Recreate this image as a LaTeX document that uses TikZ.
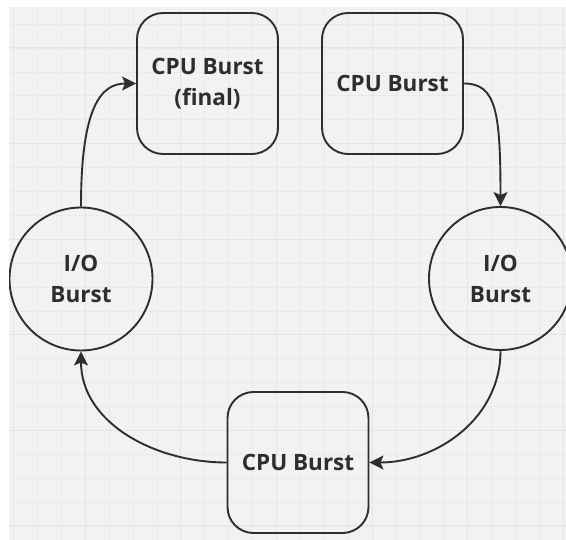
\documentclass[tikz,border=0pt]{standalone}
\usepackage{fontspec}
\setmainfont{Open Sans}
\usetikzlibrary{arrows.meta}
\definecolor{ink}{HTML}{2E2E2E}
\definecolor{paper}{HTML}{F2F2F2}
\definecolor{gridminor}{HTML}{EAEAEA}
\definecolor{gridmajor}{HTML}{E4E4E4}
\tikzset{
  cpubox/.style={draw=ink, line width=1.9pt, rounded corners=26pt,
    minimum width=141pt, minimum height=141pt, inner sep=0pt,
    align=center, font=\fontsize{22.5}{31}\selectfont\bfseries, text=ink},
  iocircle/.style={draw=ink, line width=1.9pt, circle,
    minimum size=143pt, inner sep=0pt,
    align=center, font=\fontsize{22.5}{31}\selectfont\bfseries, text=ink},
  flow/.style={draw=ink, line width=1.9pt,
    -{Stealth[length=14pt,width=14pt,inset=3pt]}}
}
\begin{document}
\begin{tikzpicture}[x=1pt,y=-1pt]
  \useasboundingbox (0,0) rectangle (566,540);
  \fill[white] (0,0) rectangle (566,540);
  \begin{scope}
    \clip (9,7) rectangle (566,540);
    \fill[paper] (9,7) rectangle (566,540);
    % minor grid
    \foreach \i in {0,...,23} {
      \draw[gridminor, line width=0.8pt] (13.5+23.9*\i,7) -- (13.5+23.9*\i,540);
      \draw[gridminor, line width=0.8pt] (9,0.3+23.9*\i) -- (566,0.3+23.9*\i);
    }
    % major grid
    \foreach \i in {0,...,5} {
      \draw[gridmajor, line width=1pt] (85.2+95.6*\i,7) -- (85.2+95.6*\i,540);
      \draw[gridmajor, line width=1pt] (9,48+95.6*\i) -- (566,48+95.6*\i);
    }

    \node[cpubox] (final) at (207.5,83.5) {CPU Burst\\(final)};
    \node[cpubox] (cpuA)  at (392.5,83.5) {CPU Burst};
    \node[iocircle] (ioR) at (500.5,278.5) {I/O\\Burst};
    \node[cpubox] (cpuB)  at (298,462.5) {CPU Burst};
    \node[iocircle] (ioL) at (81,279) {I/O\\Burst};

    \draw[flow] (cpuA.east) .. controls +(32,0) and +(0,-95) .. (ioR.north);
    \draw[flow] (ioR.south) to[out=-90, in=0] (cpuB.east);
    \draw[flow] (cpuB.west) to[out=180, in=-90] (ioL.south);
    \draw[flow] (ioL.north) .. controls +(0,-100) and +(-35,0) .. (final.west);
  \end{scope}
\end{tikzpicture}
\end{document}
